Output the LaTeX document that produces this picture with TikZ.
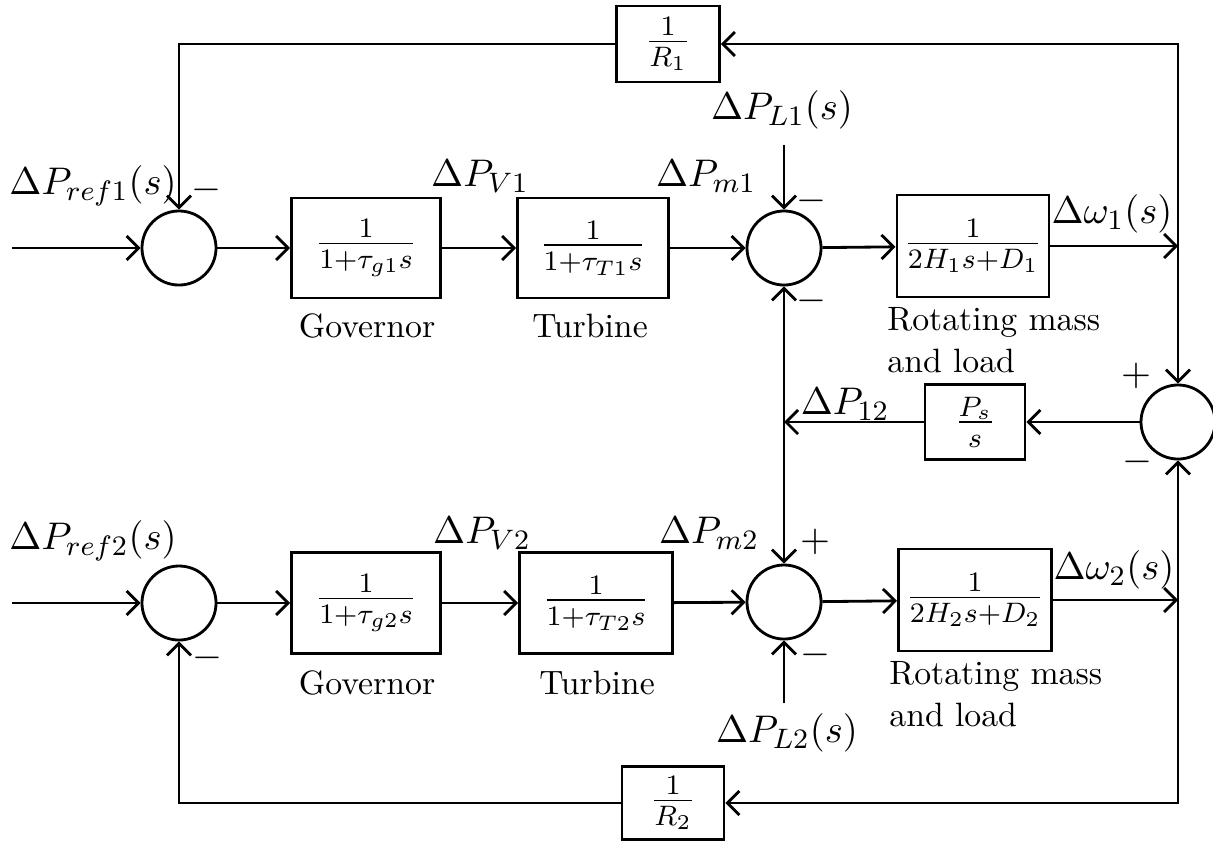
\documentclass[tikz,border=0pt]{standalone}
\usetikzlibrary{arrows.meta}

\begin{document}
\begin{tikzpicture}[x=0.01cm, y=-0.01cm, line width=0.8pt, >={Straight Barb[length=1.2mm,width=2.4mm]},
	block/.style = {draw, inner sep=0pt, font=\fontsize{12}{14}\selectfont},
	sum/.style = {draw, circle, minimum size=0.74cm, inner sep=0pt},
	sig/.style = {inner sep=0pt, font=\fontsize{11}{13}\selectfont},
	blockname/.style = {inner sep=0pt, font=\fontsize{9.6}{12}\selectfont}]
	\useasboundingbox (0,0) rectangle (1213,845);

	% area 1
	\node[sum] (sum11) at (179,248) {};
	\node[block, minimum width=1.49cm, minimum height=1.0cm] (gov1) at (366,248) {$\frac{1}{1+\tau_{g1}s}$};
	\node[block, minimum width=1.51cm, minimum height=1.0cm] (turb1) at (593,248) {$\frac{1}{1+\tau_{T1}s}$};
	\node[sum] (sum12) at (784,248) {};
	\node[block, minimum width=1.52cm, minimum height=1.02cm] (mass1) at (973,246) {$\frac{1}{2H_1s+D_1}$};
	\node[block, minimum width=1.03cm, minimum height=0.76cm] (r1) at (668,44) {$\frac{1}{R_1}$};

	% tie line
	\node[sum] (sum3) at (1178,422) {};
	\node[block, minimum width=1.0cm, minimum height=0.75cm] (ps) at (975,422) {$\frac{P_s}{s}$};

	% area 2
	\node[sum] (sum21) at (179,603) {};
	\node[block, minimum width=1.49cm, minimum height=1.01cm] (gov2) at (366,603) {$\frac{1}{1+\tau_{g2}s}$};
	\node[block, minimum width=1.53cm, minimum height=1.01cm] (turb2) at (596,603) {$\frac{1}{1+\tau_{T2}s}$};
	\node[sum] (sum22) at (784,602) {};
	\node[block, minimum width=1.53cm, minimum height=1.02cm] (mass2) at (975,600) {$\frac{1}{2H_2s+D_2}$};
	\node[block, minimum width=1.02cm, minimum height=0.73cm] (r2) at (673,803) {$\frac{1}{R_2}$};

	\coordinate (in1) at (12,248);
	\coordinate (in2) at (12,603);
	\coordinate (w1) at (1178,246);
	\coordinate (w2) at (1178,600);
	\coordinate (pl1) at (784,145);
	\coordinate (pl2) at (784,703);
	\coordinate (tie) at (784,422);

	\draw[->] (in1) -- (sum11);
	\draw[->] (sum11) -- (gov1);
	\draw[->] (gov1) -- (turb1);
	\draw[->] (turb1) -- (sum12);
	\draw[->] (sum12) -- (mass1);
	\draw[->] (mass1) -- (w1);
	\draw[->] (w1) |- (r1);
	\draw[->] (r1) -| (sum11);
	\draw[->] (w1) -- (sum3);
	\draw[->] (pl1) -- (sum12);

	\draw[->] (sum3) -- (ps);
	\draw[->] (ps) -- (tie);
	\draw[->] (tie) -- (sum12);
	\draw[->] (tie) -- (sum22);

	\draw[->] (in2) -- (sum21);
	\draw[->] (sum21) -- (gov2);
	\draw[->] (gov2) -- (turb2);
	\draw[->] (turb2) -- (sum22);
	\draw[->] (sum22) -- (mass2);
	\draw[->] (mass2) -- (w2);
	\draw[->] (w2) |- (r2);
	\draw[->] (r2) -| (sum21);
	\draw[->] (w2) -- (sum3);
	\draw[->] (pl2) -- (sum22);

	% signal names
	\node[sig] (lref1) at (93,186) {$\Delta P_{ref1}(s)$};
	\node[sig] (lv1) at (480,176) {$\Delta P_{V1}$};
	\node[sig] (lm1) at (706,176) {$\Delta P_{m1}$};
	\node[sig] (ll1) at (782,110) {$\Delta P_{L1}(s)$};
	\node[sig] (lw1) at (1112,214) {$\Delta\omega_1(s)$};
	\node[sig] (l12) at (845,404) {$\Delta P_{12}$};
	\node[sig] (lref2) at (93,541) {$\Delta P_{ref2}(s)$};
	\node[sig] (lv2) at (482,533) {$\Delta P_{V2}$};
	\node[sig] (lm2) at (709,533) {$\Delta P_{m2}$};
	\node[sig] (ll2) at (787,733) {$\Delta P_{L2}(s)$};
	\node[sig] (lw2) at (1114,570) {$\Delta\omega_2(s)$};

	% signs
	\node[sig] (s11) at (206,190) {$-$};
	\node[sig] (s12a) at (811,201) {$-$};
	\node[sig] (s12b) at (811,301) {$-$};
	\node[sig] (s3a) at (1136,376) {$+$};
	\node[sig] (s3b) at (1137,462) {$-$};
	\node[sig] (s21) at (207,658) {$-$};
	\node[sig] (s22a) at (815,542) {$+$};
	\node[sig] (s22b) at (815,655) {$-$};

	% block names
	\node[blockname] (cgov1) at (367,326) {Governor};
	\node[blockname] (cturb1) at (590,326) {Turbine};
	\node[blockname, anchor=north west, align=left] (cmass1) at (886,306) {Rotating mass\\and load};
	\node[blockname] (cgov2) at (367,683) {Governor};
	\node[blockname] (cturb2) at (597,683) {Turbine};
	\node[blockname, anchor=north west, align=left] (cmass2) at (888,660) {Rotating mass\\and load};
\end{tikzpicture}
\end{document}
